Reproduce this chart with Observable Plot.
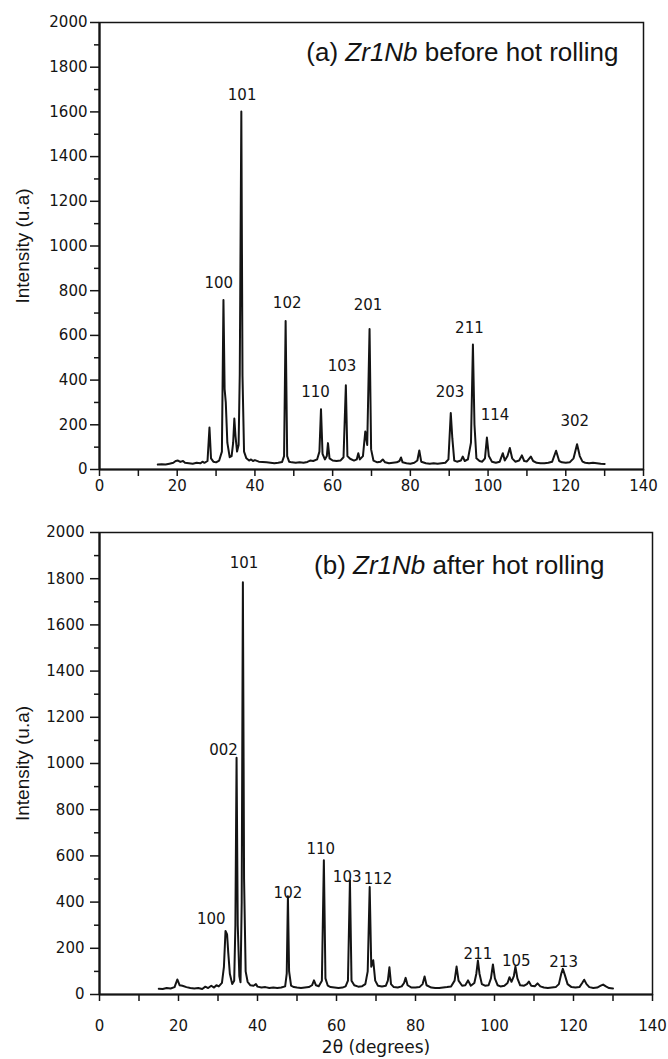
<!DOCTYPE html>
<html><head><meta charset="utf-8">
<script src="https://cdn.jsdelivr.net/npm/d3@7"></script>
<script src="https://cdn.jsdelivr.net/npm/@observablehq/plot@0.6"></script>
<style>body{margin:0;background:#fff} svg{display:block}</style>
</head><body><div id="chart"></div>
<script>
// ---- Data (2θ in degrees, intensity in u.a) ----
const spectrumA = [[15,22],[16,24],[17,22],[18,26],[19,30],[19.6,38],[20.2,40],[20.8,34],[21.5,38],[22,30],[23,28],[24,26],[25,30],[26,28],[26.5,35],[27,30],[27.8,38],[28.3,188],[28.7,50],[29.3,35],[30,32],[30.8,40],[31.5,80],[31.9,758],[32.2,360],[32.5,300],[32.9,120],[33.5,55],[34.0,60],[34.4,120],[34.7,228],[35.0,150],[35.4,80],[35.8,110],[36.1,430],[36.5,1602],[36.8,420],[37.2,80],[37.8,50],[38.5,40],[39,45],[39.5,38],[40,42],[41,35],[42,34],[43,32],[44,30],[45,28],[46,30],[47,34],[47.5,60],[47.9,664],[48.3,60],[48.8,35],[49.5,32],[50.5,30],[51.5,32],[52.5,30],[53.5,34],[54.2,40],[55,38],[56,45],[56.6,80],[57.0,270],[57.4,70],[58,45],[58.5,60],[58.8,118],[59.2,50],[60,40],[61,38],[62,40],[62.8,55],[63.4,377],[63.8,60],[64.5,48],[65.5,40],[66.2,45],[66.6,73],[67,45],[67.8,60],[68.4,170],[68.9,110],[69.5,629],[69.9,90],[70.5,40],[71.5,32],[72.3,35],[72.9,45],[73.5,32],[74.5,28],[75.5,30],[76.5,32],[77.2,38],[77.6,54],[78,32],[79,28],[80,26],[81,30],[81.8,40],[82.3,85],[82.8,35],[84,28],[85,26],[86,28],[87,26],[88,28],[89,30],[89.8,45],[90.4,253],[90.8,140],[91.3,40],[92,35],[93,40],[93.5,58],[94,38],[94.8,45],[95.6,120],[96.1,559],[96.5,200],[97,50],[97.8,38],[98.5,35],[99.2,50],[99.7,143],[100.2,60],[101,35],[102,30],[103,35],[103.8,73],[104.3,40],[105,60],[105.6,96],[106.2,50],[107,35],[108,40],[108.7,63],[109.3,38],[110,36],[111,58],[111.6,38],[112.5,30],[113.5,28],[114.5,28],[115.5,30],[116.5,35],[117.5,84],[118.3,38],[119,32],[120,30],[121,32],[122,50],[122.9,113],[123.6,60],[124.3,35],[125,30],[126,28],[127,30],[128,28],[129,26],[130,25]];

const spectrumB = [[15,25],[16,24],[17,28],[18,26],[19,32],[19.7,65],[20.3,40],[21,38],[22,32],[23,28],[24,26],[25,28],[26,24],[26.8,34],[27.5,28],[28.3,38],[29,30],[29.6,40],[30.2,35],[31,50],[31.5,120],[31.9,275],[32.3,260],[32.6,180],[33,90],[33.6,45],[34.1,60],[34.4,300],[34.7,1025],[35.0,300],[35.4,80],[35.7,53],[36.0,400],[36.3,1785],[36.6,500],[37,100],[37.5,55],[38.2,40],[39,38],[39.6,45],[40,34],[41,30],[42,32],[43,28],[44,30],[45,28],[46,30],[47,35],[47.4,90],[47.7,425],[48.0,100],[48.5,38],[49.2,32],[50,30],[51,28],[52,30],[53,32],[53.8,40],[54.3,61],[54.8,40],[55.5,36],[56.3,60],[56.8,581],[57.2,70],[57.8,38],[58.5,32],[59.5,30],[60.5,28],[61.5,30],[62.3,35],[62.9,60],[63.4,495],[63.8,60],[64.5,40],[65.5,34],[66.5,36],[67.3,45],[67.9,100],[68.4,465],[68.8,120],[69.3,148],[69.8,60],[70.5,38],[71.5,35],[72.5,38],[73.0,60],[73.4,118],[73.8,45],[74.5,32],[75.5,30],[76.5,35],[77.1,50],[77.5,72],[78,40],[79,30],[80,30],[81,32],[81.8,45],[82.3,78],[82.8,40],[84,30],[85,28],[86,28],[87,30],[88,32],[89,35],[89.9,60],[90.4,121],[90.9,60],[91.8,38],[92.6,40],[93.3,61],[94,38],[94.9,50],[95.4,90],[95.8,147],[96.2,90],[96.8,45],[97.6,38],[98.5,40],[99.1,70],[99.6,130],[100.1,70],[100.8,40],[101.5,35],[102.5,38],[103.3,50],[103.8,75],[104.3,55],[104.9,80],[105.3,121],[105.8,70],[106.5,40],[107.5,38],[108.2,45],[108.7,56],[109.3,38],[110.2,36],[110.9,48],[111.6,35],[112.5,30],[113.5,28],[114.5,30],[115.5,32],[116.3,45],[116.9,90],[117.3,111],[117.8,85],[118.5,45],[119.5,32],[120.5,30],[121.5,32],[122.2,50],[122.7,64],[123.3,45],[124,32],[125,28],[126,30],[126.9,38],[127.5,43],[128.2,35],[129,28],[130,26]];

const peakLabelsA = ["100","101","102","110","103","201","203","211","114","302"];
const peakXA = [30.7,36.7,48.3,55.6,62.4,69.1,90.2,95.2,101.8,122.3];
const peakYA = [835,1673,746,345,462,734,345,634,245,215];

const peakLabelsB = ["100","002","101","102","110","103","112","211","105","213"];
const peakXB = [28.3,31.4,36.6,47.7,56.0,62.7,70.5,95.8,105.5,117.5];
const peakYB = [324,1058,1868,440,628,509,499,174,143,140];

const yMajorTicks = [0,200,400,600,800,1000,1200,1400,1600,1800,2000];
const yMinorTicks = [100,300,500,700,900,1100,1300,1500,1700,1900];
const xLabelTicks = [0,20,40,60,80,100,120,140];
const xAllTicks = [0,10,20,30,40,50,60,70,80,90,100,110,120,130,140];

const sampleName = "Zr1Nb";
const notePrefixA = "(a)", noteSuffixA = "before hot rolling";
const notePrefixB = "(b)", noteSuffixB = "after hot rolling";
const yTitle = "Intensity (u.a)";
const xTitle = "2θ (degrees)";

const INK = "#141414";
const SANS = "'Liberation Sans', Arial, sans-serif";
const DJV = "'DejaVu Sans', sans-serif";

function panel(o) {
  const peaks = o.labels.map((t, i) => ({t, x: o.lx[i], y: o.ly[i]}));
  const note = `${o.prefix} ${sampleName} ${o.suffix}`;
  const marks = [
    Plot.frame({stroke: INK, strokeWidth: 1.5}),
    Plot.line(o.data, {x: d => d[0], y: d => d[1], stroke: INK, strokeWidth: 2, strokeLinejoin: "round"}),
    Plot.ruleX([0], {stroke: INK, strokeWidth: 2.2}),
    Plot.ruleY([0], {stroke: INK, strokeWidth: 2.2}),
    Plot.axisY(yMinorTicks, {tickSize: 5, strokeWidth: 1.5, tickFormat: () => "", label: null}),
    Plot.axisY(yMajorTicks, {tickSize: 9, tickPadding: o.yPad, strokeWidth: 1.5, fontSize: 15, tickFormat: d => String(d), label: null}),
    Plot.axisX(xAllTicks, {tickSize: 7, strokeWidth: 1.5, tickFormat: () => "", label: null}),
    Plot.axisX(xLabelTicks, {tickSize: 0, tickPadding: 7 + o.xPad, fontSize: 15, tickFormat: d => String(d), label: null}),
    Plot.text(peaks, {x: "x", y: "y", text: "t", fontSize: o.labelSize, fill: INK, lineAnchor: "middle"}),
    Plot.text([note], {frameAnchor: "top-right", dx: o.noteDx, dy: o.noteDy, textAnchor: "end", lineAnchor: "middle", fontSize: 26, fontFamily: SANS, fill: INK}),
    Plot.text([yTitle], {frameAnchor: "left", rotate: -90, dx: -77, fontSize: 19, fontFamily: SANS, fill: INK, textAnchor: "middle", lineAnchor: "middle"})
  ];
  if (o.xTitle) marks.push(Plot.text([o.xTitle], {frameAnchor: "bottom", dy: 53, textAnchor: "middle", lineAnchor: "middle", fontSize: 17, fill: INK}));
  const svg = Plot.plot({
    width: 668, height: o.height,
    marginLeft: 99, marginRight: o.marginRight, marginTop: 22, marginBottom: o.marginBottom,
    style: {fontFamily: DJV, background: "#fff", color: INK},
    x: {domain: [0, 140]},
    y: {domain: [0, 2000]},
    marks
  });
  d3.select(svg).selectAll("text").filter(function () { return this.textContent === note; }).each(function () {
    const t = d3.select(this);
    t.text(null);
    t.append("tspan").text(o.prefix + " ");
    t.append("tspan").attr("font-style", "italic").text(sampleName);
    t.append("tspan").text(" " + o.suffix);
  });
  return svg;
}

const root = document.getElementById("chart");
root.appendChild(panel({data: spectrumA, labels: peakLabelsA, lx: peakXA, ly: peakYA, prefix: notePrefixA, suffix: noteSuffixA,
  noteDx: -25, noteDy: 30, height: 510, marginBottom: 41, marginRight: 25, xPad: 4, yPad: 3, labelSize: 15}));
root.appendChild(panel({data: spectrumB, labels: peakLabelsB, lx: peakXB, ly: peakYB, prefix: notePrefixB, suffix: noteSuffixB,
  noteDx: -48, noteDy: 33, height: 549, marginBottom: 65, marginRight: 16, xPad: 19, yPad: 6, labelSize: 15, xTitle}));
</script>
</body></html>
